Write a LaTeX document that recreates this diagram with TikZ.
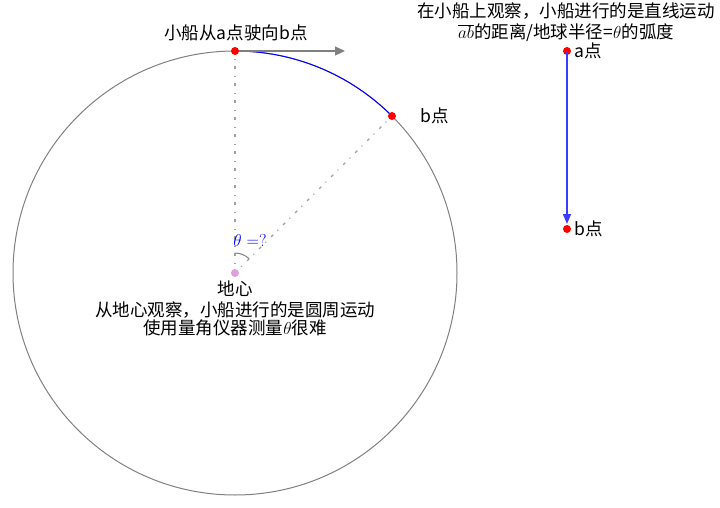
\documentclass[tikz,border=0pt]{standalone}
\usepackage{fontspec}
\setmainfont{Noto Sans CJK SC}
\usetikzlibrary{arrows.meta,calc}
\definecolor{circgray}{RGB}{128,128,128}
\definecolor{dotgray}{RGB}{160,160,160}
\definecolor{plumc}{RGB}{221,160,221}
\definecolor{arrblue}{RGB}{60,60,255}
\begin{document}
\begin{tikzpicture}[x=1pt,y=1pt,
  lbl/.style={font=\fontsize{17.5}{19}\selectfont, inner sep=0pt},
  reddot/.style={circle, fill=red, inner sep=0pt, minimum size=8pt},
  guide/.style={dotgray, dash pattern=on 3pt off 6pt on 1pt off 7pt, line width=1.2pt}]
\useasboundingbox (0,0) rectangle (720,507);
% earth
\coordinate (C) at (235,234);
\draw[circgray, line width=1pt] (C) circle[radius=222];
% guide lines
\coordinate (A) at (235,456);
\coordinate (B) at ($(C)+(45:222)$);
\draw[guide] (C) -- (A);
\draw[guide] (C) -- (B);
% angle arc
\draw[circgray, line width=1pt] ($(C)+(90:20)$) arc[start angle=90, end angle=45, radius=20];
% blue arc
\draw[blue, line width=1pt] (A) arc[start angle=90, end angle=45, radius=222];
% tangent arrow
\coordinate (T) at (345,456);
\draw[circgray, line width=1.2pt, -{Triangle[length=10pt,width=9pt]}] (A) -- (T);
% dots
\node[reddot] (a) at (A) {};
\node[reddot] (b) at (B) {};
\node[circle, fill=plumc, inner sep=0pt, minimum size=8pt] (c) at (C) {};
% labels
\node[lbl] (ltop) at (236,474) {小船从a点驶向b点};
\node[lbl, anchor=west] (lb) at (420,391) {b点};
\node[inner sep=0pt, text=blue, font=\fontsize{18}{20}\selectfont] (th) at (250,267) {$\theta=?$};
\node[lbl] (dx) at (235,218) {地心};
\node[lbl, align=center, font=\fontsize{17.5}{18}\selectfont] (obs) at (235,188) {从地心观察，小船进行的是圆周运动\\使用量角仪器测量$\theta$很难};
% right side
\node[lbl, align=center, font=\fontsize{17.5}{21}\selectfont] (rt) at (566,484.5) {在小船上观察，小船进行的是直线运动\\$\overline{ab}$的距离/地球半径=$\theta$的弧度};
\node[reddot] (a2) at (567,456) {};
\node[reddot] (b2) at (567,278) {};
\draw[arrblue, line width=1.5pt, -{Triangle[length=10pt,width=8pt]}] (a2.center) -- ($(b2.center)+(0,5)$);
\node[lbl, anchor=west] (la2) at (574,456) {a点};
\node[lbl, anchor=west] (lb2) at (574,278) {b点};
\end{tikzpicture}
\end{document}
